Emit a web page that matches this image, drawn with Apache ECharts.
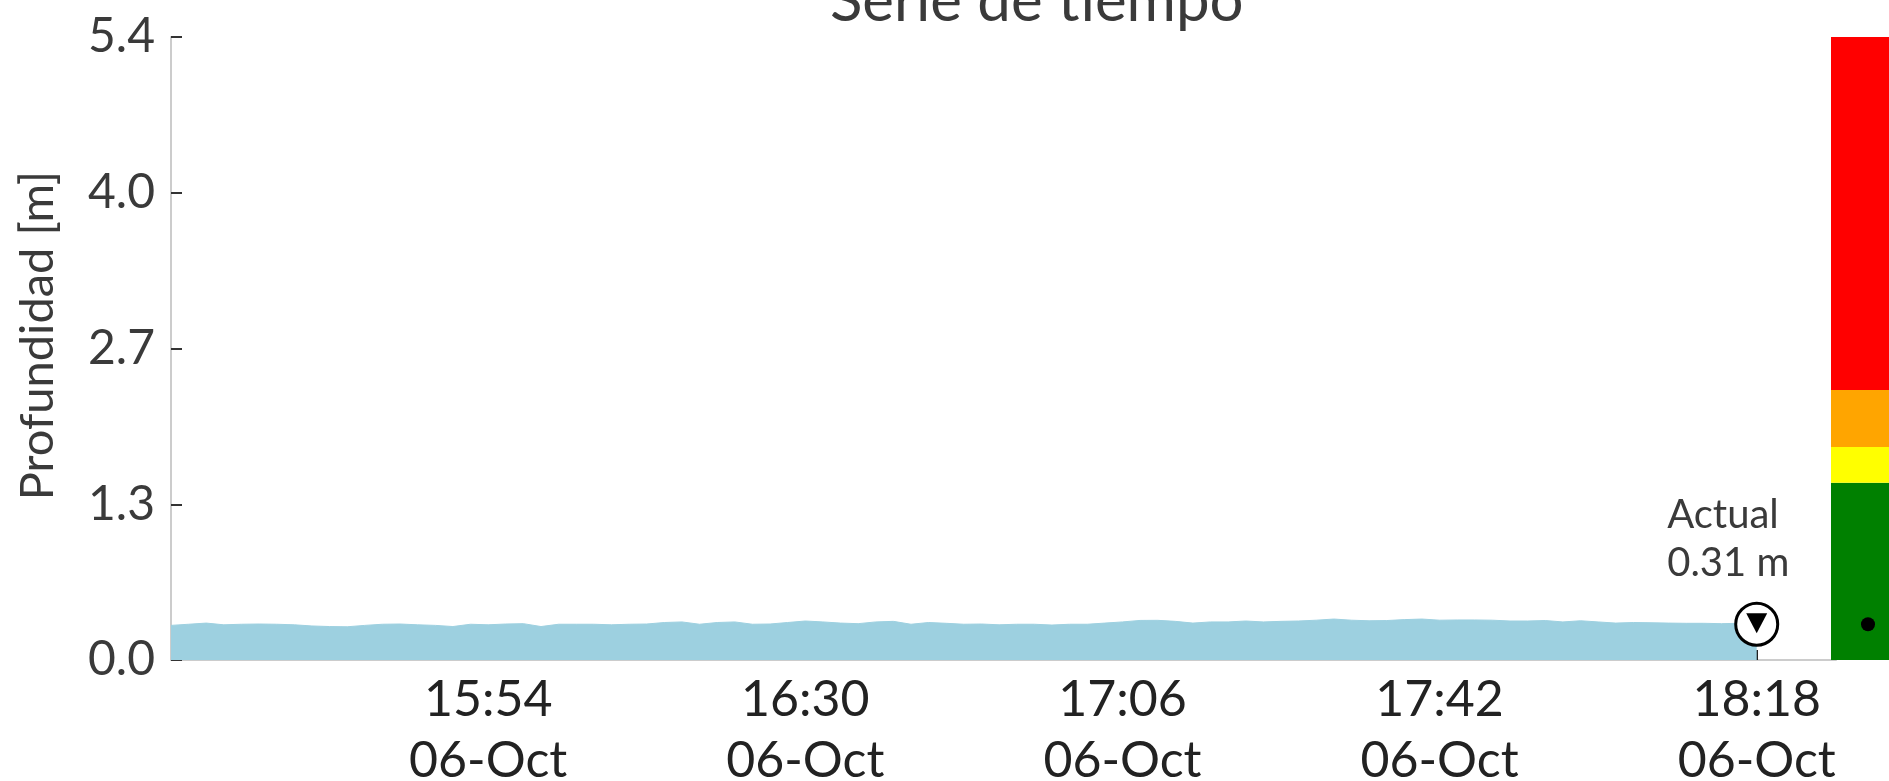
<!DOCTYPE html>
<html><head><meta charset="utf-8">
<script src="https://cdn.jsdelivr.net/npm/echarts@6/dist/echarts.min.js"></script>
<style>html,body{margin:0;padding:0;background:#fff}#c{width:1889px;height:781px}</style>
</head><body><div id="c"></div>
<script>
// ---- data ----
const startTime = '15:18';
const stepMinutes = 2;
const depth = [
  0.300,0.310,0.320,0.305,0.310,0.312,0.310,0.305,0.295,0.290,
  0.288,0.300,0.310,0.312,0.305,0.300,0.290,0.310,0.305,0.312,
  0.315,0.290,0.310,0.310,0.310,0.305,0.310,0.312,0.325,0.330,
  0.310,0.325,0.330,0.310,0.312,0.325,0.338,0.330,0.320,0.315,
  0.330,0.335,0.310,0.325,0.318,0.310,0.312,0.305,0.310,0.310,
  0.303,0.310,0.310,0.320,0.330,0.343,0.344,0.335,0.320,0.330,
  0.330,0.338,0.330,0.335,0.338,0.345,0.355,0.345,0.340,0.342,
  0.350,0.355,0.345,0.347,0.347,0.345,0.338,0.338,0.342,0.330,
  0.340,0.330,0.320,0.325,0.323,0.320,0.318,0.318,0.315,0.318,
  0.310
];
const xMin = '15:18';
const xMax = '18:27';
const tickTimes = ['15:54', '16:30', '17:06', '17:42', '18:18'];
const tickDate = '06-Oct';
const yTickLabels = ['0.0', '1.3', '2.7', '4.0', '5.4'];
const yMax = 5.4;
const currentTime = '18:18';
const currentValue = 0.31;
const currentLabel = ['Actual', '0.31 m'];
const levelNames = ['Verde', 'Amarillo', 'Naranja', 'Rojo'];
const levelBands = [1.536, 0.31, 0.494, 3.06];
const levelColors = ['#008000', '#ffff00', '#ffa500', '#ff0000'];
const titleText = 'Serie de tiempo';
const yName = 'Profundidad [m]';

// ---- helpers ----
const toMin = s => { const [h, m] = s.split(':').map(Number); return h * 60 + m; };
const fmt = v => { const h = Math.floor(v / 60), m = Math.round(v % 60); return String(h).padStart(2, '0') + ':' + String(m).padStart(2, '0'); };
const t0 = toMin(startTime);
const seriesData = depth.map((v, i) => [t0 + i * stepMinutes, v]);
const tickVals = tickTimes.map(toMin);
const FONT = 'Lato';
const TXT = '#3a3a3a';

const chart = echarts.init(document.getElementById('c'));
chart.setOption({
  animation: false,
  textStyle: { fontFamily: FONT },
  title: {
    text: titleText, left: 825, top: -33,
    textStyle: { fontFamily: FONT, fontSize: 60, fontWeight: 'normal', color: TXT }
  },
  grid: [
    { left: 171, top: 37, right: 53, bottom: 121, containLabel: false, outerBoundsMode: 'none' },
    { left: 1831, top: 37, width: 74, bottom: 121, containLabel: false, outerBoundsMode: 'none' }
  ],
  xAxis: [
    {
      type: 'value', gridIndex: 0, min: toMin(xMin), max: toMin(xMax),
      axisLine: { show: true, lineStyle: { color: '#cccccc', width: 2 } },
      axisTick: { show: true, inside: true, length: 10, customValues: tickVals, lineStyle: { color: '#222', width: 2 } },
      axisLabel: { customValues: tickVals, formatter: v => fmt(v) + '\n' + tickDate, fontSize: 50, lineHeight: 61, color: '#222', margin: 9, fontFamily: FONT },
      splitLine: { show: false }
    },
    { type: 'category', gridIndex: 1, data: ['nivel'], show: false }
  ],
  yAxis: [
    {
      type: 'value', gridIndex: 0, min: 0, max: yMax, interval: yMax / 4,
      name: yName, nameLocation: 'middle', nameRotate: 90, nameGap: 110,
      nameTextStyle: { fontSize: 47, color: TXT, fontFamily: FONT, padding: [0, 0, 0, 26] },
      axisLine: { show: true, lineStyle: { color: '#cccccc', width: 2 } },
      axisTick: { show: true, inside: true, length: 11, lineStyle: { color: '#333', width: 2 } },
      axisLabel: { formatter: v => yTickLabels[Math.round(v / (yMax / 4))], fontSize: 48, color: TXT, margin: 16, fontFamily: FONT },
      splitLine: { show: false }
    },
    { type: 'value', gridIndex: 1, min: 0, max: yMax, show: false }
  ],
  series: [
    {
      type: 'line', xAxisIndex: 0, yAxisIndex: 0, data: seriesData, symbol: 'none',
      lineStyle: { width: 1, color: '#9dd0e0' }, areaStyle: { color: '#9dd0e0', opacity: 1 }, z: 2
    },
    {
      type: 'scatter', xAxisIndex: 0, yAxisIndex: 0, data: [[toMin(currentTime), currentValue]],
      symbol: 'circle', symbolSize: 42, z: 5,
      itemStyle: { color: '#fff', borderColor: '#000', borderWidth: 3, opacity: 1 },
      label: {
        show: true, position: [-67, -111], align: 'left', verticalAlign: 'top',
        formatter: currentLabel.join('\n'), fontSize: 40, lineHeight: 48, color: TXT, fontFamily: FONT
      }
    },
    {
      type: 'scatter', xAxisIndex: 0, yAxisIndex: 0, data: [[toMin(currentTime), currentValue]],
      symbol: 'triangle', symbolRotate: 180, symbolSize: [21, 20], symbolOffset: [0, -1], z: 6,
      itemStyle: { color: '#000', opacity: 1 }
    },
    ...levelBands.map((b, i) => ({
      type: 'bar', name: levelNames[i], xAxisIndex: 1, yAxisIndex: 1, stack: 'niveles',
      data: [b], barWidth: '100%', itemStyle: { color: levelColors[i] }, z: 3
    })),
    {
      type: 'scatter', xAxisIndex: 1, yAxisIndex: 1, data: [['nivel', currentValue]],
      symbol: 'circle', symbolSize: 14, itemStyle: { color: '#000', opacity: 1 }, z: 5
    }
  ]
});
</script>
</body></html>
